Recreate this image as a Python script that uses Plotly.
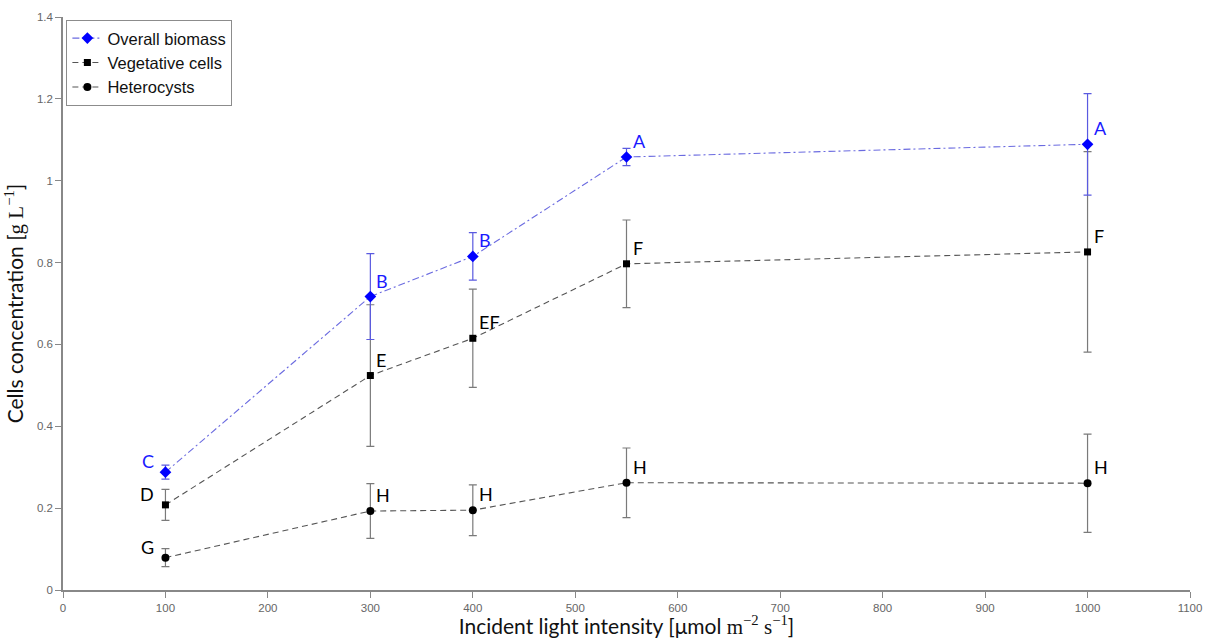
import plotly.graph_objects as go

# Incident light intensity (µmol m-2 s-1)
light = [100, 300, 400, 550, 1000]

# Cell concentrations (g/L) and standard deviations
biomass = [0.288, 0.717, 0.815, 1.058, 1.089]
biomass_sd = [0.017, 0.105, 0.058, 0.021, 0.124]
vegetative = [0.208, 0.524, 0.615, 0.797, 0.826]
vegetative_sd = [0.038, 0.173, 0.120, 0.107, 0.245]
heterocysts = [0.079, 0.193, 0.195, 0.262, 0.261]
heterocysts_sd = [0.022, 0.067, 0.062, 0.085, 0.120]

# Statistical grouping letters
biomass_letters = ["C", "B", "B", "A", "A"]
vegetative_letters = ["D", "E", "EF", "F", "F"]
heterocysts_letters = ["G", "H", "H", "H", "H"]

x_ticks = list(range(0, 1101, 100))
y_ticks = [0, 0.2, 0.4, 0.6, 0.8, 1.0, 1.2, 1.4]
y_tick_text = ["0", "0.2", "0.4", "0.6", "0.8", "1", "1.2", "1.4"]

LETTER_FONT = "Lato, 'Open Sans', sans-serif"
TICK_FONT = "'Liberation Sans', Arial, sans-serif"
SERIF = "font-family:'Liberation Serif','DejaVu Serif',serif"

fig = go.Figure()

series = [
    ("Heterocysts", heterocysts, heterocysts_sd, heterocysts_letters,
     "#555555", "#000000", "circle", 8, "6px,4px", "#7a7a7a", "#000000"),
    ("Vegetative cells", vegetative, vegetative_sd, vegetative_letters,
     "#555555", "#000000", "square", 7, "6px,4px", "#7a7a7a", "#000000"),
    ("Overall biomass", biomass, biomass_sd, biomass_letters,
     "#6b6be0", "#0000ff", "diamond", 9, "7px,3px,2px,3px", "#5a5ae0", "#1a1aff"),
]

for name, y, sd, letters, lcol, mcol, sym, msize, dash, ecol, tcol in series:
    fig.add_trace(go.Scatter(
        x=light, y=y, name=name, mode="lines+markers",
        line=dict(color=lcol, width=1.1, dash=dash),
        marker=dict(symbol=sym, size=msize, color=mcol),
        error_y=dict(type="data", array=sd, visible=True,
                     color=ecol, thickness=1.2, width=4),
    ))
    for i, (xv, yv, lab) in enumerate(zip(light, y, letters)):
        first = i == 0
        fig.add_annotation(
            x=xv, y=yv, text=lab, showarrow=False,
            xanchor="right" if first else "left", yanchor="middle",
            xshift=-9 if first else 4, yshift=11 if first else 16,
            font=dict(family=LETTER_FONT, size=18, color=tcol),
        )

fig.update_layout(
    width=1207, height=639,
    margin=dict(l=63, r=17, t=17, b=49),
    paper_bgcolor="white", plot_bgcolor="white",
    showlegend=True,
    legend=dict(
        x=0.003, y=0.995, xanchor="left", yanchor="top",
        bgcolor="white", bordercolor="#8c8c8c", borderwidth=1,
        font=dict(family=TICK_FONT, size=16.5, color="#111111"),
        tracegroupgap=0, itemwidth=30, traceorder="reversed",
    ),
    xaxis=dict(
        range=[0, 1100], tickvals=x_ticks, ticktext=[str(v) for v in x_ticks],
        showgrid=False, zeroline=False, showline=True, linecolor="#888888",
        linewidth=1.5, ticks="outside", ticklen=6, tickcolor="#888888",
        tickfont=dict(family=TICK_FONT, size=11.5, color="#666666"),
        title=dict(text="Incident light intensity [μmol "
                        f"<span style=\"{SERIF}\">m<sup>−2</sup> s<sup>−1</sup></span>]",
                   font=dict(family=LETTER_FONT, size=21, color="#111111"),
                   standoff=4),
        automargin=False,
    ),
    yaxis=dict(
        range=[0, 1.4], tickvals=y_ticks, ticktext=y_tick_text,
        showgrid=False, zeroline=False, showline=True, linecolor="#888888",
        linewidth=1.5, ticks="outside", ticklen=6, tickcolor="#888888",
        tickfont=dict(family=TICK_FONT, size=11.5, color="#666666"),
        title=dict(text=f"Cells concentration [<span style=\"{SERIF}\">g L<sup>−1</sup></span>]",
                   font=dict(family=LETTER_FONT, size=21, color="#111111"),
                   standoff=8),
        automargin=False,
    ),
)

fig.write_html("out.html")
